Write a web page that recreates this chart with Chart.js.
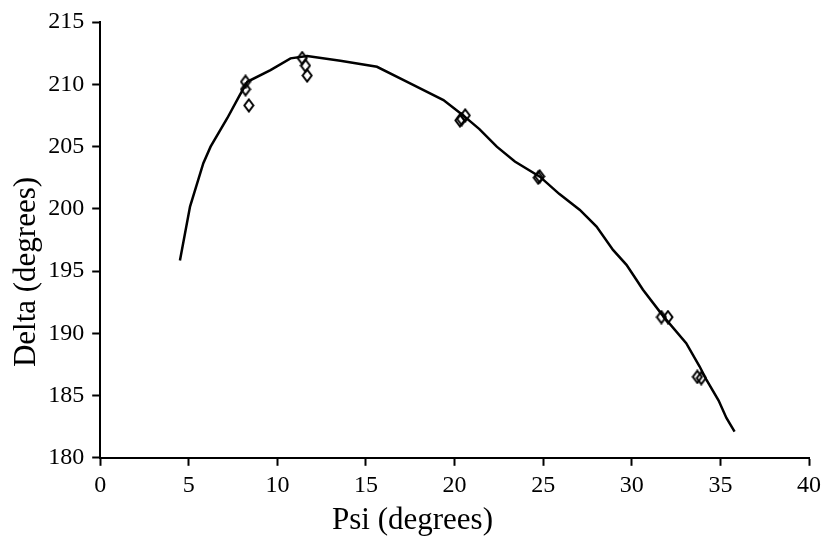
<!DOCTYPE html>
<html>
<head>
<meta charset="utf-8">
<script src="https://cdn.jsdelivr.net/npm/chart.js@4/dist/chart.umd.min.js"></script>
<style>
	html, body { margin: 0; padding: 0; background: #fff; }
	#wrap { width: 825px; height: 544px; }
</style>
</head>
<body>
<div id="wrap"><canvas id="chart" width="825" height="544"></canvas></div>
<script>
// fitted curve
var curvePsi = [4.5, 5.07, 5.82, 6.23, 7.17, 7.83, 8.3, 9.61, 10.74, 11.68, 13.55, 15.62, 17.49, 19.37, 20.4, 21.4, 22.38, 23.4, 24.81, 25.9, 27.07, 28.01, 28.94, 29.7, 30.26, 30.63, 31.76, 33.07, 33.82, 34.2, 34.9, 35.34, 35.8];
var curveDelta = [195.85, 200.18, 203.66, 204.99, 207.27, 209.0, 210.2, 211.14, 212.08, 212.26, 211.88, 211.4, 210.07, 208.73, 207.6, 206.4, 204.99, 203.8, 202.58, 201.2, 199.91, 198.57, 196.7, 195.5, 194.3, 193.5, 191.4, 189.2, 187.35, 186.3, 184.6, 183.2, 182.1];

// measured points
var measPsi = [8.2, 8.2, 8.39, 11.4, 11.58, 11.68, 20.3, 20.4, 20.6, 24.72, 24.8, 31.67, 32.04, 33.7, 33.92];
var measDelta = [210.2, 209.6, 208.3, 212.1, 211.5, 210.7, 207.1, 207.2, 207.5, 202.5, 202.6, 191.3, 191.3, 186.5, 186.4];

var psiTicks = [0, 5, 10, 15, 20, 25, 30, 35, 40];
var deltaTicks = [180, 185, 190, 195, 200, 205, 210, 215];

var toXY = function (xs, ys) {
	return xs.map(function (x, i) {
		return { x: x, y: ys[i] };
	});
};

// hollow diamond, a little taller than wide
var diamond = (function () {
	var c = document.createElement("canvas");
	c.width = 12;
	c.height = 15;
	var ctx = c.getContext("2d");
	ctx.strokeStyle = "#000";
	ctx.lineWidth = 2;
	ctx.lineJoin = "miter";
	ctx.beginPath();
	ctx.moveTo(6, 1.5);
	ctx.lineTo(10.5, 7.5);
	ctx.lineTo(6, 13.5);
	ctx.lineTo(1.5, 7.5);
	ctx.closePath();
	ctx.stroke();
	return c;
})();

var serif = "'Liberation Serif', 'Times New Roman', serif";

new Chart(document.getElementById("chart"), {
	type: "scatter",
	data: {
		datasets: [
			{
				label: "fit",
				data: toXY(curvePsi, curveDelta),
				showLine: true,
				borderColor: "#000",
				borderWidth: 2.5,
				pointRadius: 0,
				tension: 0,
				fill: false,
			},
			{
				label: "measured",
				data: toXY(measPsi, measDelta),
				showLine: false,
				pointStyle: diamond,
				pointRadius: 6,
			},
		],
	},
	options: {
		responsive: false,
		animation: false,
		layout: { padding: 0 },
		plugins: {
			legend: { display: false },
			tooltip: { enabled: false },
			// axis titles are centred on the whole picture, not on the plot
			title: {
				display: true,
				position: "bottom",
				text: "Psi (degrees)",
				color: "#000",
				font: { family: serif, size: 31, weight: "normal" },
				padding: { top: 0, bottom: 5 },
			},
			subtitle: {
				display: true,
				position: "left",
				text: "Delta (degrees)",
				color: "#000",
				font: { family: serif, size: 31, weight: "normal" },
				padding: { top: 8, bottom: 0 },
			},
		},
		scales: {
			x: {
				type: "linear",
				min: psiTicks[0],
				max: psiTicks[psiTicks.length - 1],
				afterBuildTicks: function (scale) {
					scale.ticks = psiTicks.map(function (v) { return { value: v }; });
				},
				afterFit: function (scale) {
					scale.height = 44;
					scale.paddingRight = 16;
				},
				border: { display: true, color: "#000", width: 2 },
				grid: { drawOnChartArea: false, drawTicks: true, tickLength: 8, tickWidth: 2, color: "#000" },
				ticks: { color: "#000", font: { family: serif, size: 24 }, padding: 6, maxRotation: 0 },
			},
			y: {
				type: "linear",
				min: deltaTicks[0],
				max: deltaTicks[deltaTicks.length - 1],
				afterBuildTicks: function (scale) {
					scale.ticks = deltaTicks.map(function (v) { return { value: v }; });
				},
				afterFit: function (scale) {
					scale.width = 55;
					scale.paddingTop = 22;
				},
				border: { display: true, color: "#000", width: 2 },
				grid: { drawOnChartArea: false, drawTicks: true, tickLength: 8, tickWidth: 2, color: "#000" },
				ticks: { color: "#000", font: { family: serif, size: 24 }, padding: 8 },
			},
		},
	},
});
</script>
</body>
</html>
